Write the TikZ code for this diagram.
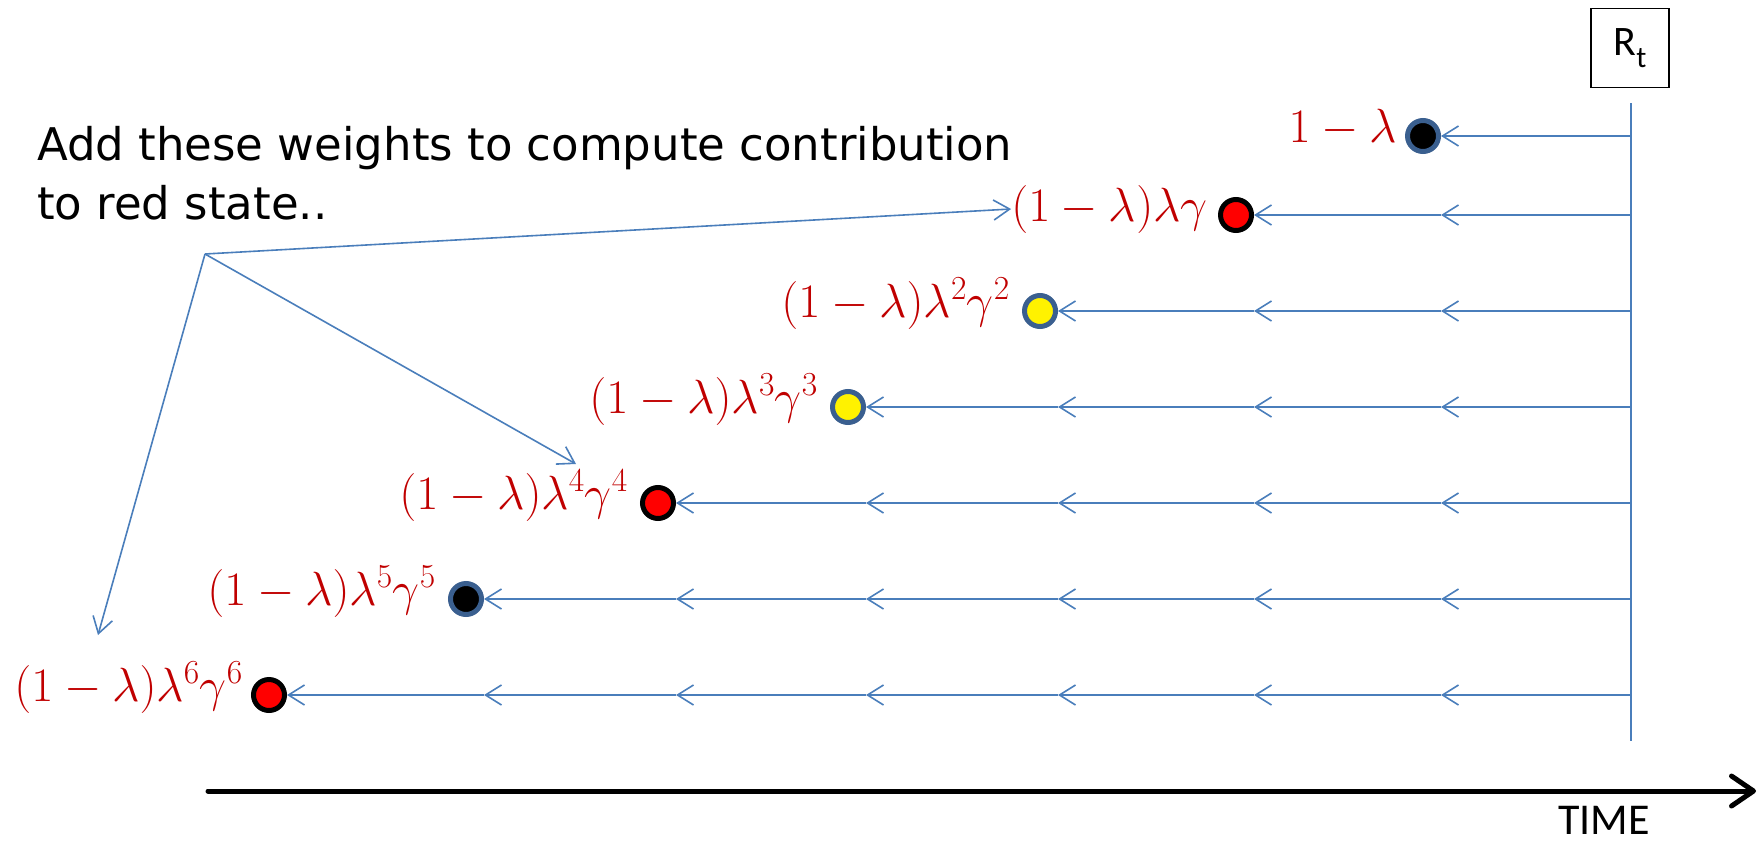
\RequirePackage{fix-cm}
\documentclass[tikz,border=0pt]{standalone}
\usepackage{fontspec}
\newfontfamily\handfont{DejaVu Sans}
\newfontfamily\calfont{Carlito}
\usetikzlibrary{arrows.meta,calc}
\definecolor{lineblue}{HTML}{4A7EBB}
\definecolor{ringblue}{HTML}{3A5F8F}
\definecolor{labred}{HTML}{C00000}
\tikzset{
  flow/.style={draw=lineblue, line width=1.6pt, -{Straight Barb[length=16pt,width=20pt,line width=1.6pt]}},
  dot/.style={circle, minimum size=31pt, inner sep=0pt, line width=5pt},
  lab/.style={text=labred, font=\fontsize{48}{52}\selectfont, anchor=base east, inner sep=0pt},
}
\begin{document}
\begin{tikzpicture}[x=1pt,y=-1pt]
\useasboundingbox (0,0) rectangle (1760,846);
% R_t box and vertical line
\node[draw=black, line width=1.5pt, minimum width=78pt, minimum height=79pt, inner sep=0pt,
      font=\calfont\fontsize{42}{42}\selectfont] (rt) at (1630,48)
      {R\raisebox{-0.3em}{\fontsize{30}{30}\selectfont t}};
\coordinate (vt) at (1631,103);
\coordinate (vb) at (1631,741);
\draw[lineblue, line width=2pt] (vt) -- (vb);
% state dots
\foreach \i/\x/\y/\fc/\rc in {1/1423/136/black/ringblue, 2/1236/215/red/black,
    3/1040/311/yellow/ringblue, 4/848/407/yellow/ringblue, 5/658/503/red/black,
    6/466/599/black/ringblue, 7/269/695/red/black}{
  \node[dot, fill=\fc, draw=\rc] (c\i) at (\x,\y) {};
  \coordinate (r\i) at (1631,\y);
}
% labels
\node[lab] (l1) at ($(c1)+(-26,6)$) {$1-\lambda$};
\node[lab] (l2) at ($(c2)+(-28,6)$) {$(1-\lambda)\lambda\gamma$};
\node[lab] (l3) at ($(c3)+(-30,6)$) {$(1-\lambda)\lambda^2\gamma^2$};
\node[lab] (l4) at ($(c4)+(-30,6)$) {$(1-\lambda)\lambda^3\gamma^3$};
\node[lab] (l5) at ($(c5)+(-30,6)$) {$(1-\lambda)\lambda^4\gamma^4$};
\node[lab] (l6) at ($(c6)+(-30,6)$) {$(1-\lambda)\lambda^5\gamma^5$};
\node[lab] (l7) at ($(c7)+(-26,6)$) {$(1-\lambda)\lambda^6\gamma^6$};
% row flows
\foreach \n in {1,...,7}{
  \draw[flow] (r\n) -- (c1.east |- r\n);
  \ifnum\n>1
    \foreach \j in {2,...,\n}{
      \pgfmathtruncatemacro{\k}{\j-1}
      \draw[flow] (c\k.east |- r\n) -- (c\j.east |- r\n);
    }
  \fi
}
% heading and pointers
\node[anchor=base west, inner sep=0pt, align=left, font=\handfont\fontsize{45}{59}\selectfont] (head) at (37,219)
  {Add these weights to compute contribution\\to red state..};
\coordinate (p) at (205,254);
\coordinate (a5) at (576,464);
\coordinate (a7) at (98,635);
\draw[flow] (p) -- (l2.west);
\draw[flow] (p) -- (a5);
\draw[flow] (p) -- (a7);
% time axis
\coordinate (t0) at (208,791);
\coordinate (t1) at (1756,791);
\draw[line width=5pt, line cap=round, -{Straight Barb[length=22pt,width=30pt,line width=5pt,round]}] (t0) -- (t1);
\node[anchor=base west, inner sep=0pt, font=\calfont\fontsize{44}{44}\selectfont] (time) at (1558,834) {TIME};
\end{tikzpicture}
\end{document}
